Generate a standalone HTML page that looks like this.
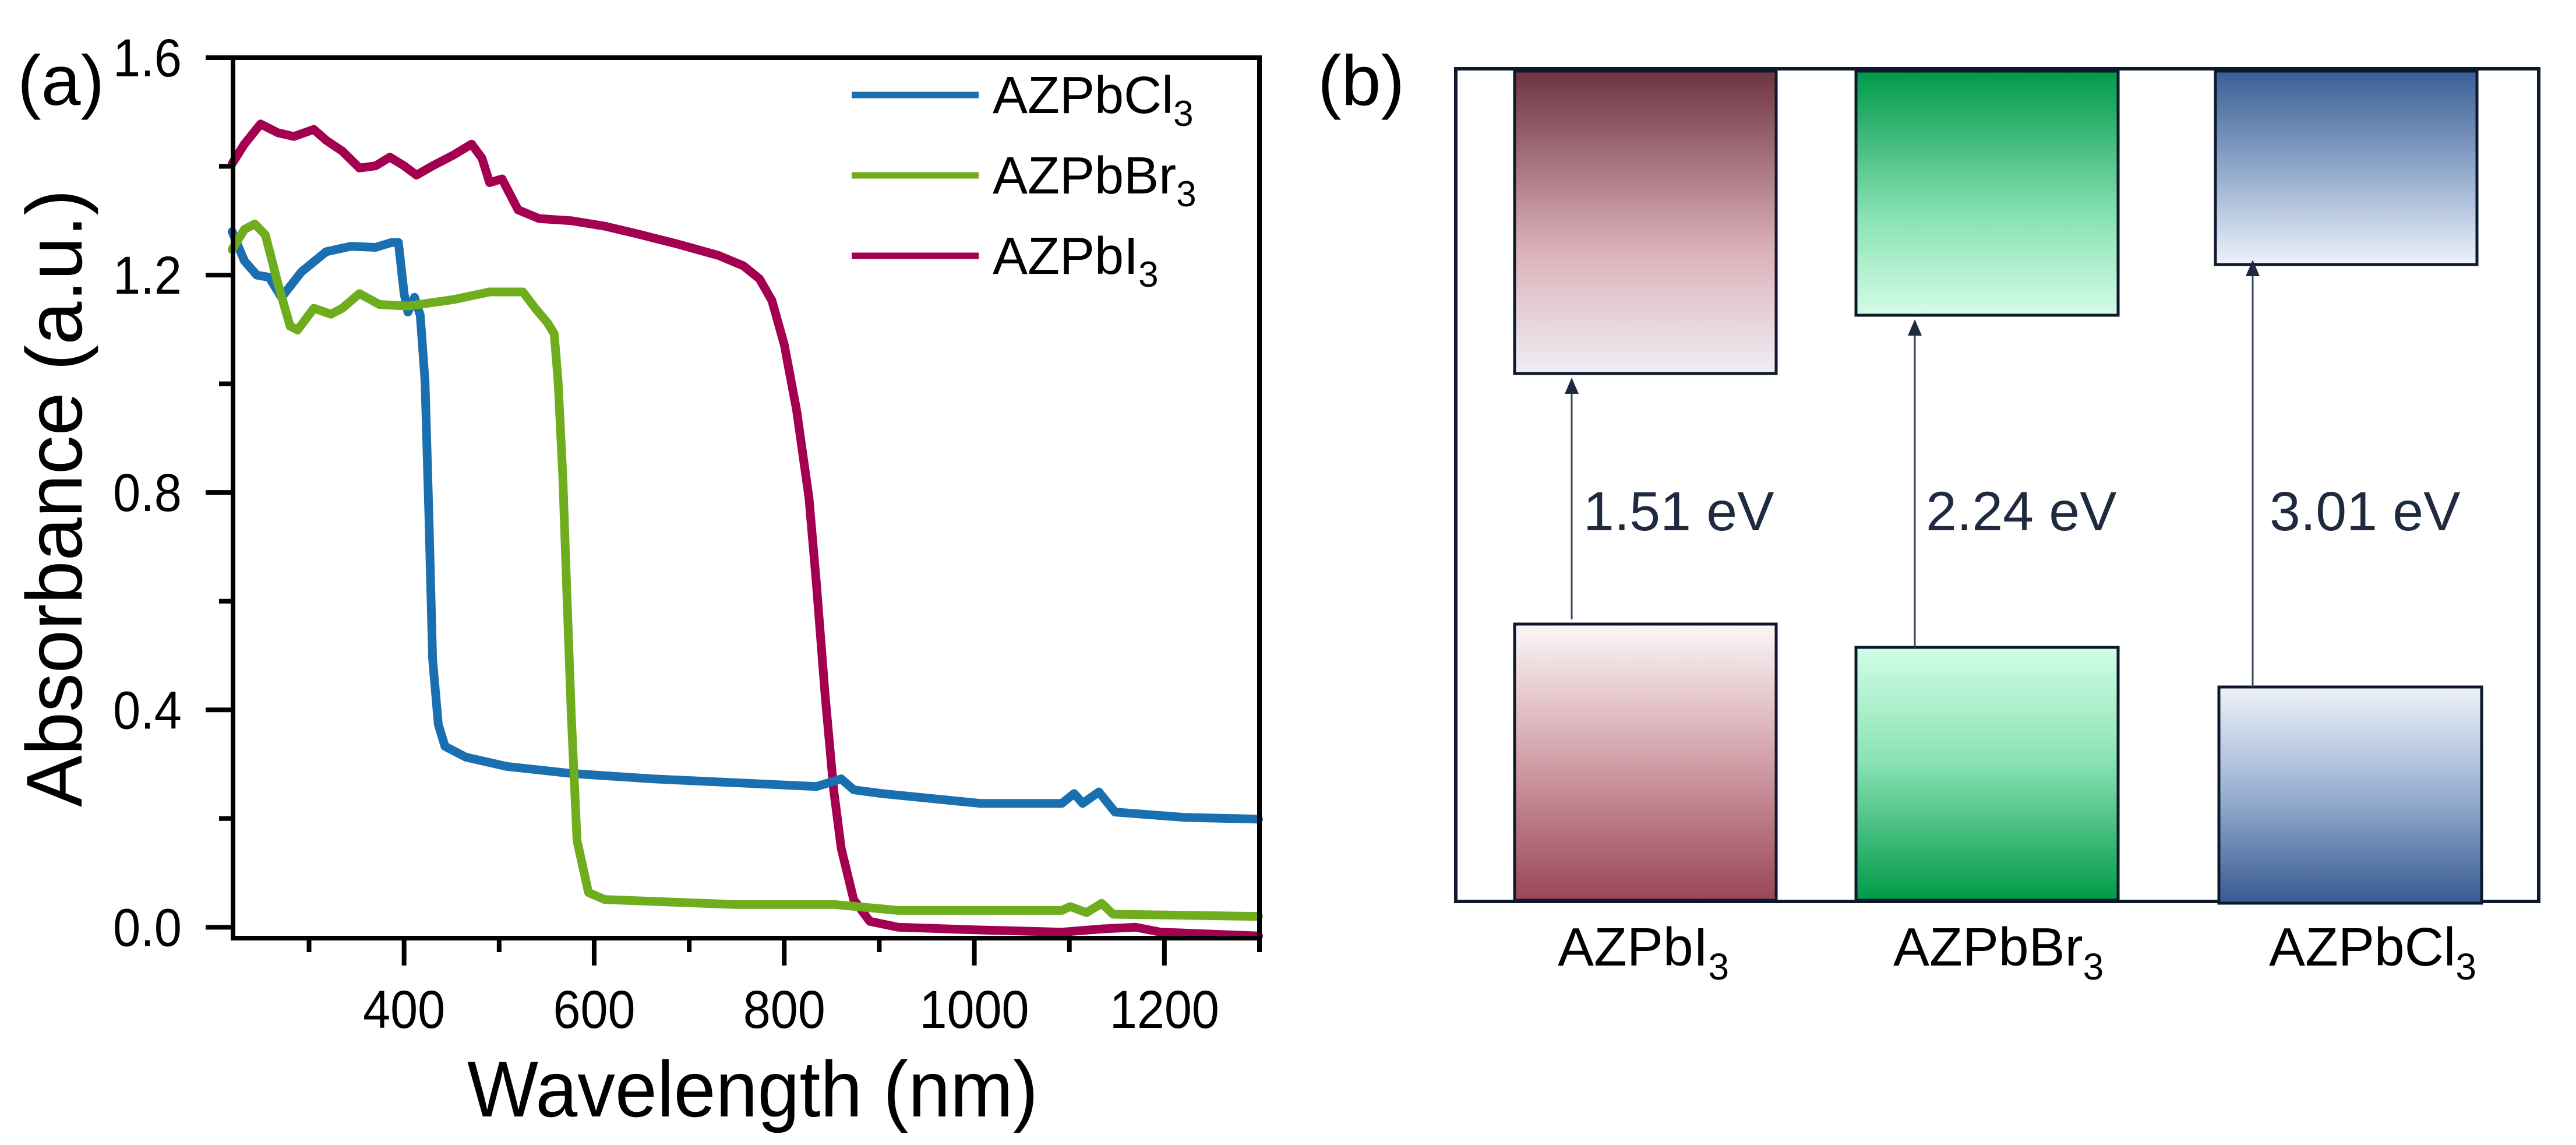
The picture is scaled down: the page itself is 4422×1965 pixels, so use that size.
<!DOCTYPE html>
<html><head><meta charset="utf-8">
<style>
html,body{margin:0;padding:0;background:#fff;}
svg{display:block;font-family:"Liberation Sans",Arial,sans-serif;}
</style></head>
<body>
<svg id="fig" width="4422" height="1965" viewBox="0 0 4422 1965" xmlns="http://www.w3.org/2000/svg">
<defs>
<linearGradient id="gICB" x1="0" y1="0" x2="0" y2="1"><stop offset="0" stop-color="#6e3440"/><stop offset="0.6" stop-color="#dcb2bb"/><stop offset="1" stop-color="#efeef4"/></linearGradient>
<linearGradient id="gIVB" x1="0" y1="0" x2="0" y2="1"><stop offset="0" stop-color="#fbf7f7"/><stop offset="0.4" stop-color="#dbb0b8"/><stop offset="1" stop-color="#9a4756"/></linearGradient>
<linearGradient id="gBCB" x1="0" y1="0" x2="0" y2="1"><stop offset="0" stop-color="#00994a"/><stop offset="0.6" stop-color="#8ae2b4"/><stop offset="1" stop-color="#d4fce6"/></linearGradient>
<linearGradient id="gBVB" x1="0" y1="0" x2="0" y2="1"><stop offset="0" stop-color="#d2fde5"/><stop offset="0.45" stop-color="#8ae2b4"/><stop offset="1" stop-color="#009a48"/></linearGradient>
<linearGradient id="gCCB" x1="0" y1="0" x2="0" y2="1"><stop offset="0" stop-color="#3a5e95"/><stop offset="0.55" stop-color="#98afd0"/><stop offset="1" stop-color="#eef2fa"/></linearGradient>
<linearGradient id="gCVB" x1="0" y1="0" x2="0" y2="1"><stop offset="0" stop-color="#eef2fa"/><stop offset="0.5" stop-color="#98afd0"/><stop offset="1" stop-color="#375a92"/></linearGradient>
</defs>

<g id="panelA"></g>

<g id="panelB">
  <text x="2262" y="180" font-size="122">(b)</text>
  <rect x="2499" y="118" width="1859" height="1429" fill="#fff" stroke="#0d1a2e" stroke-width="6"/>
  <rect x="2600" y="122" width="449" height="519" fill="url(#gICB)" stroke="#0d1a2e" stroke-width="5"/>
  <rect x="2600" y="1071" width="449" height="474" fill="url(#gIVB)" stroke="#0d1a2e" stroke-width="5"/>
  <rect x="3186" y="122" width="450" height="419" fill="url(#gBCB)" stroke="#0d1a2e" stroke-width="5"/>
  <rect x="3186" y="1111" width="450" height="434" fill="url(#gBVB)" stroke="#0d1a2e" stroke-width="5"/>
  <rect x="3803" y="122" width="449" height="332" fill="url(#gCCB)" stroke="#0d1a2e" stroke-width="5"/>
  <rect x="3809" y="1179" width="451" height="371" fill="url(#gCVB)" stroke="#0d1a2e" stroke-width="5"/>
  <g stroke="#3a4558" stroke-width="3">
    <line x1="2698" y1="1063" x2="2698" y2="670"/>
    <line x1="3287" y1="1111" x2="3287" y2="570"/>
    <line x1="3867" y1="1179" x2="3867" y2="466"/>
  </g>
  <g fill="#1f2a40">
    <polygon points="2698,648 2686,676 2710,676"/>
    <polygon points="3287,548 3275,576 3299,576"/>
    <polygon points="3867,446 3855,474 3879,474"/>
  </g>
  <g font-size="95" fill="#1f2a40">
    <text x="2718" y="910">1.51 eV</text>
    <text x="3306" y="910">2.24 eV</text>
    <text x="3896" y="910">3.01 eV</text>
  </g>
  <g font-size="93" fill="#000">
    <text x="2674" y="1657">AZPbI<tspan font-size="64" dy="24">3</tspan></text>
    <text x="3250" y="1657">AZPbBr<tspan font-size="64" dy="24">3</tspan></text>
    <text x="3895" y="1657">AZPbCl<tspan font-size="64" dy="24">3</tspan></text>
  </g>
</g>
</svg>

<script>
// ---- chart data (panel a) ----
const xTicks = [400, 600, 800, 1000, 1200];
const xMinor = [300, 500, 700, 900, 1100, 1300];
const yTicks = [0.0, 0.4, 0.8, 1.2, 1.6];
const yTickLabels = ["0.0", "0.4", "0.8", "1.2", "1.6"];
const yMinor = [0.2, 0.6, 1.0, 1.4];
const seriesNames = ["AZPbCl3", "AZPbBr3", "AZPbI3"];
const clX = [219,232,245,258,271,292,318,344,370,387,394,400,404,411,417,422,426,430,436,443,465,508,576,662,748,834,860,873,903,1006,1092,1105,1114,1131,1148,1222,1299];
const clY = [1.280,1.226,1.200,1.196,1.159,1.206,1.243,1.253,1.251,1.260,1.260,1.166,1.132,1.159,1.126,1.005,0.763,0.494,0.373,0.333,0.313,0.296,0.283,0.273,0.266,0.259,0.273,0.253,0.246,0.228,0.228,0.246,0.228,0.249,0.212,0.202,0.199];
const brX = [219,232,243,254,267,280,288,305,323,335,353,374,404,452,490,525,538,551,558,562,567,571,576,582,594,611,748,852,920,1092,1101,1118,1134,1146,1299];
const brY = [1.247,1.284,1.294,1.274,1.186,1.106,1.099,1.139,1.128,1.139,1.166,1.146,1.143,1.155,1.169,1.169,1.139,1.112,1.092,1.005,0.830,0.629,0.387,0.159,0.064,0.051,0.042,0.042,0.031,0.031,0.038,0.027,0.044,0.024,0.020];
const iX = [219,232,249,267,284,305,318,335,353,370,385,400,413,430,452,471,482,490,503,520,542,576,611,645,688,731,757,774,787,800,813,826,834,843,852,860,873,890,920,1006,1092,1135,1170,1196,1299];
const iY = [1.405,1.441,1.478,1.462,1.455,1.468,1.448,1.428,1.397,1.401,1.417,1.401,1.384,1.401,1.421,1.441,1.415,1.370,1.377,1.320,1.304,1.300,1.290,1.276,1.257,1.236,1.217,1.193,1.153,1.072,0.951,0.790,0.629,0.427,0.253,0.145,0.051,0.011,0.000,-0.005,-0.009,-0.003,0.000,-0.009,-0.016];

const NS = "http://www.w3.org/2000/svg";
const X0 = 400, X1 = 2162, Y0 = 1610, Y1 = 99;
const xmin = 220, xmax = 1300, ymin = -0.02, ymax = 1.6;
function sx(v){ return X0 + (v - xmin) / (xmax - xmin) * (X1 - X0); }
function sy(v){ return Y0 - (v - ymin) / (ymax - ymin) * (Y0 - Y1); }
const g = document.getElementById('panelA');
function mk(tag, attrs, parent){
  const e = document.createElementNS(NS, tag);
  for (const k in attrs) e.setAttribute(k, attrs[k]);
  (parent || g).appendChild(e);
  return e;
}

// series
const series = [
  {x: clX, y: clY, color: "#1a6fb0", name: "series-azpbcl3"},
  {x: brX, y: brY, color: "#6fad1e", name: "series-azpbbr3"},
  {x: iX, y: iY, color: "#a3004f", name: "series-azpbi3"}
];
const order = [2, 0, 1];
order.forEach(function(i){
  const s = series[i];
  const d = s.x.map(function(v, j){ return (j ? "L" : "M") + sx(v).toFixed(1) + "," + sy(s.y[j]).toFixed(1); }).join("");
  const p = mk('path', {d: d, fill: "none", stroke: s.color, "stroke-width": 15, "stroke-linejoin": "round", "stroke-linecap": "round"});
  
  
});

// frame
const frame = mk('rect', {x: X0, y: Y1, width: X1 - X0, height: Y0 - Y1, fill: "none", stroke: "#000", "stroke-width": 8});



// x ticks
xTicks.forEach(function(v){
  const t = mk('line', {x1: sx(v), x2: sx(v), y1: Y0, y2: Y0 + 47, stroke: "#000", "stroke-width": 8});
  
  
  const s = String(v);
  const l = mk('text', {x: sx(v), y: 1764, "font-size": 92, "text-anchor": "middle", textLength: s.length * 47, lengthAdjust: "spacingAndGlyphs"});
  l.textContent = s;
  
  
});
xMinor.forEach(function(v){
  const t = mk('line', {x1: sx(v), x2: sx(v), y1: Y0, y2: Y0 + 24, stroke: "#000", "stroke-width": 8});
  
  
});
// y ticks
yTicks.forEach(function(v, i){
  const t = mk('line', {x1: X0 - 47, x2: X0, y1: sy(v), y2: sy(v), stroke: "#000", "stroke-width": 8});
  
  
  const l = mk('text', {x: 312, y: sy(v) + 32, "font-size": 92, "text-anchor": "end", textLength: 118, lengthAdjust: "spacingAndGlyphs"});
  l.textContent = yTickLabels[i];
  
  
});
yMinor.forEach(function(v){
  const t = mk('line', {x1: X0 - 24, x2: X0, y1: sy(v), y2: sy(v), stroke: "#000", "stroke-width": 8});
  
  
});

// axis titles
const xt = mk('text', {x: 1292, y: 1916, "font-size": 136, "text-anchor": "middle", textLength: 980, lengthAdjust: "spacingAndGlyphs"});
xt.textContent = "Wavelength (nm)";


const yt = mk('text', {x: 0, y: 0, "font-size": 136, "text-anchor": "middle", transform: "translate(140,855) rotate(-90)", textLength: 1060, lengthAdjust: "spacingAndGlyphs"});
yt.textContent = "Absorbance (a.u.)";


const pa = mk('text', {x: 30, y: 180, "font-size": 122});
pa.textContent = "(a)";



// legend
const legY = [163, 301, 439];
[0, 1, 2].forEach(function(i){
  const s = series[i];
  const ln = mk('line', {x1: 1462, x2: 1680, y1: legY[i], y2: legY[i], stroke: s.color, "stroke-width": 11});
  
  
  const tx = mk('text', {x: 1704, y: legY[i] + 31, "font-size": 90});
  tx.textContent = seriesNames[i].slice(0, -1);
  const sub = mk('tspan', {"font-size": 62, dy: 22}, tx);
  sub.textContent = "3";
  
  
});
</script>
</body></html>
